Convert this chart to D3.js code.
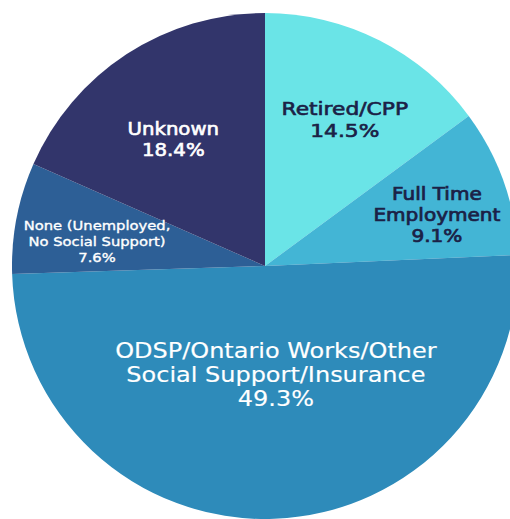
<!DOCTYPE html>
<html>
<head>
<meta charset="utf-8">
<script src="https://cdn.jsdelivr.net/npm/d3@7"></script>
<style>
	html, body { margin: 0; padding: 0; background: #fff; }
	svg { display: block; }
	.lbl { font-family: "DejaVu Sans", sans-serif; text-anchor: middle; }
</style>
</head>
<body>
<svg id="chart" width="510" height="519"></svg>
<script>
// slice data, clockwise from 12 o'clock
const categories = [
	["Retired/CPP"],
	["Full Time", "Employment"],
	["ODSP/Ontario Works/Other", "Social Support/Insurance"],
	["None (Unemployed,", "No Social Support)"],
	["Unknown"]
];
// slice sizes as drawn (measured off the wedges), labels as printed
const shares = [14.9, 9.4, 50.2, 7.1, 18.4];
const pctLabels = ["14.5%", "9.1%", "49.3%", "7.6%", "18.4%"];

const colors = ["#6ae4e7", "#43b5d5", "#2e8bba", "#2d5f96", "#32356b"];
const textColors = ["#1b2146", "#1b2146", "#ffffff", "#ffffff", "#ffffff"];
const fontSizes = [17, 17, 20.5, 12.5, 17];
const stretch = [1.28, 1.18, 1.17, 1.18, 1.16];
const strokes = [0.6, 0.7, 0.15, 0.35, 0.6];
const lineHeights = [22, 21, 24, 16, 21];
// label nudges relative to the arc centroid
const nudges = [[9, 0], [24, 7], [5, -41], [-14, 10], [-6, 11]];

const cx = 265, cy = 266, radius = 253;

const svg = d3.select("#chart");
const g = svg.append("g").attr("transform", `translate(${cx},${cy})`);

const pie = d3.pie().sort(null).value(d => d);
const arcs = pie(shares);

const arc = d3.arc().innerRadius(0).outerRadius(radius);
const labelArc = d3.arc().innerRadius(radius * 0.62).outerRadius(radius * 0.62);

g.selectAll("path.slice")
	.data(arcs)
	.join("path")
	.attr("class", "slice")
	.attr("d", arc)
	.attr("fill", (d, i) => colors[i]);

arcs.forEach((d, i) => {
	const [x, y] = labelArc.centroid(d);
	const lines = categories[i].concat([pctLabels[i]]);
	const lh = lineHeights[i];
	const t = g.append("text")
		.attr("class", "lbl")
		.attr("transform", `translate(${x + nudges[i][0]},${y + nudges[i][1]}) scale(${stretch[i]},1)`)
		.attr("fill", textColors[i])
		.attr("stroke", textColors[i])
		.attr("stroke-width", strokes[i])
		.style("font-size", fontSizes[i] + "px");
	lines.forEach((s, j) => {
		t.append("tspan")
			.attr("x", 0)
			.attr("y", (j - (lines.length - 1) / 2) * lh)
			.text(s);
	});
});
</script>
</body>
</html>
